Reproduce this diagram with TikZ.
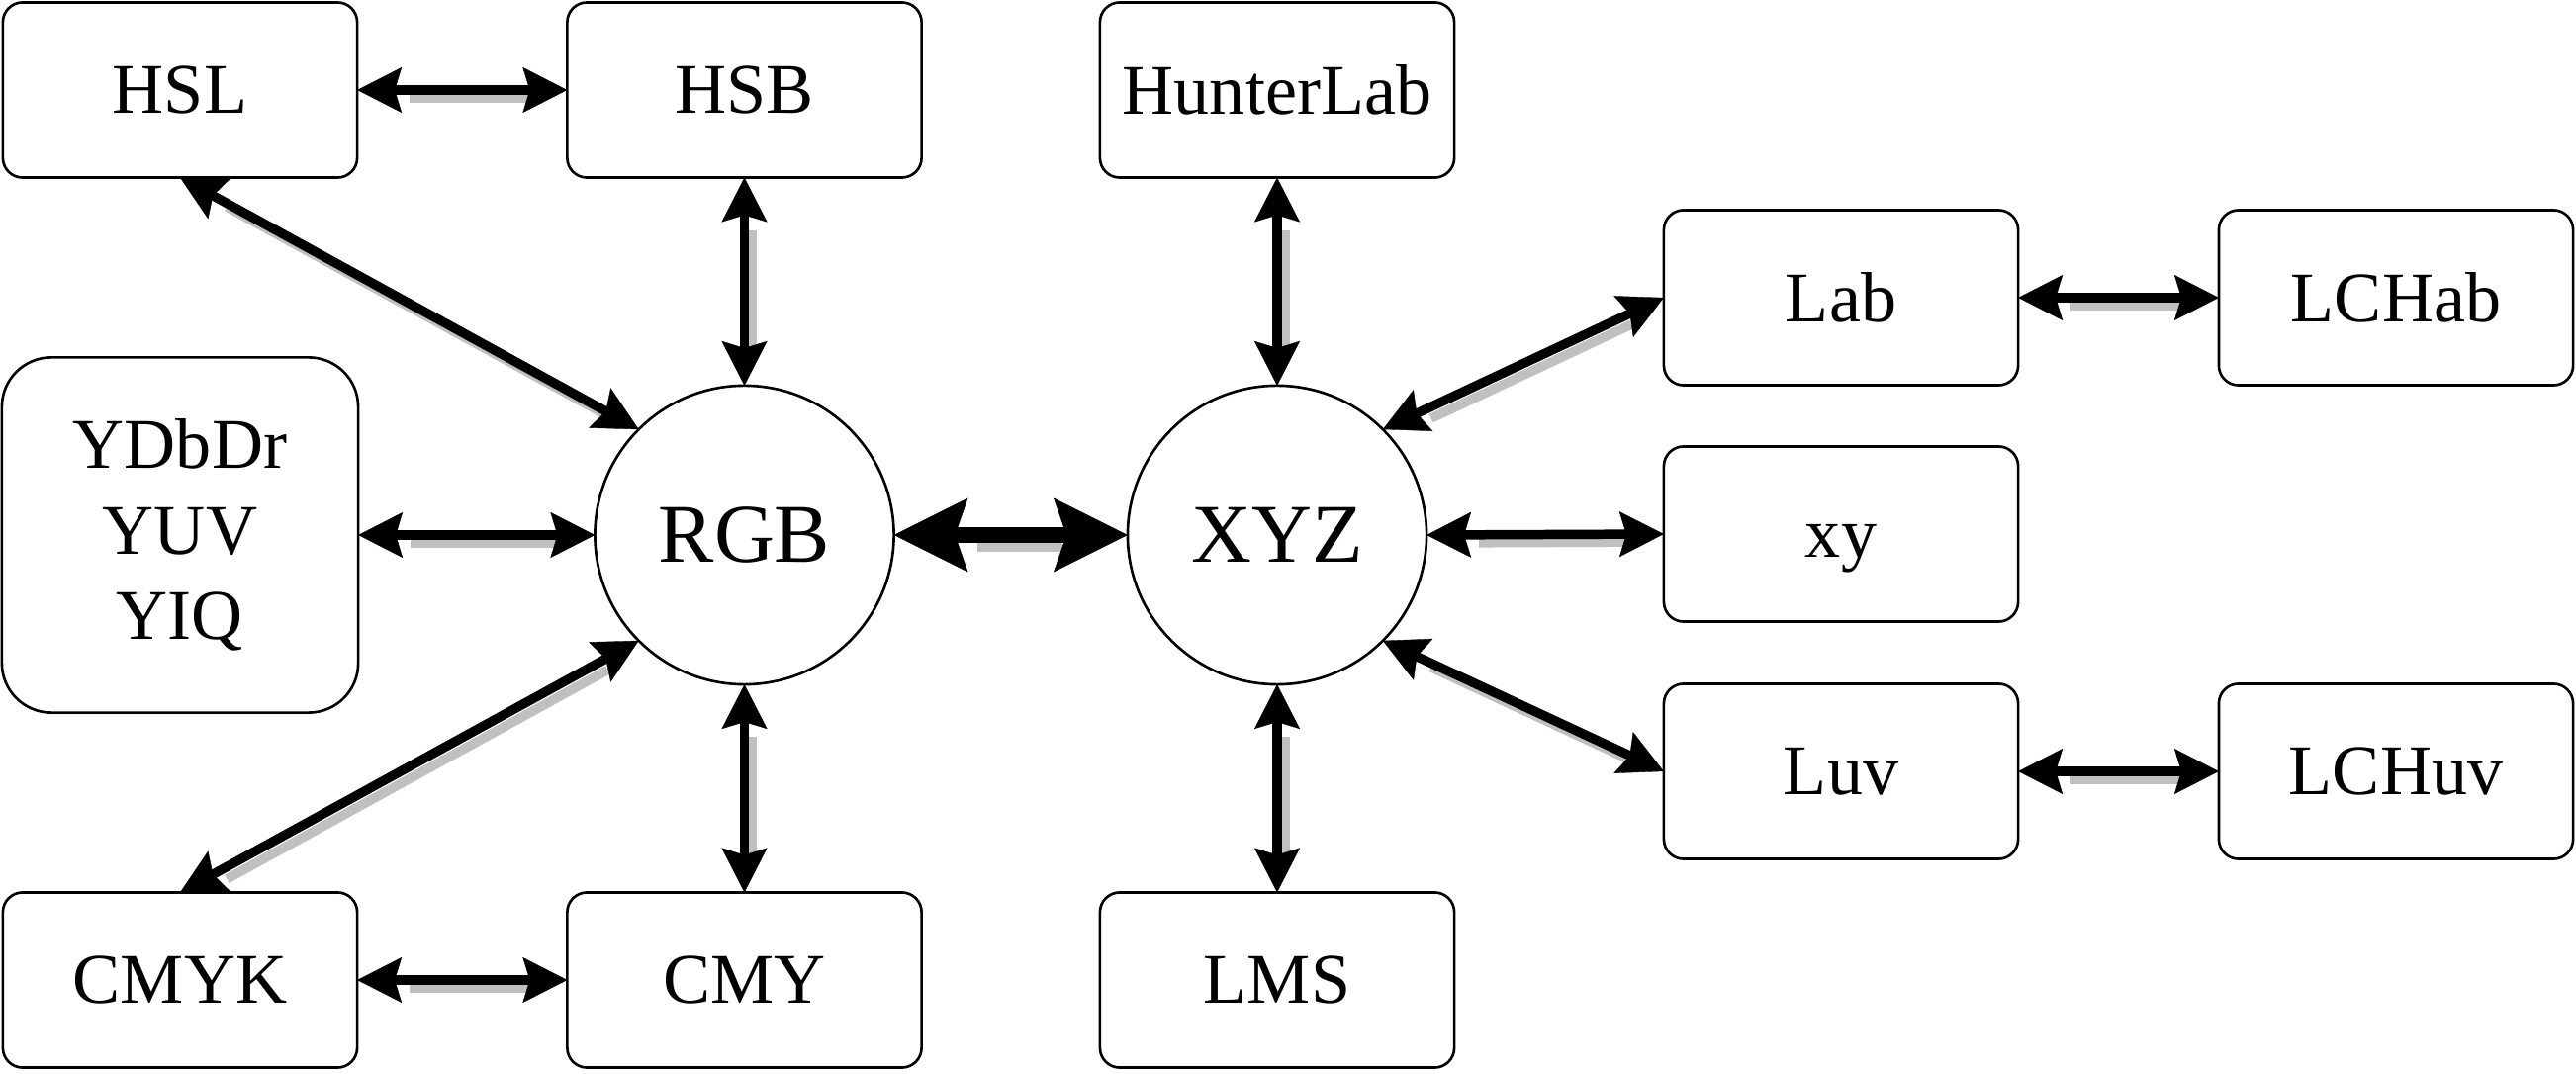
\documentclass[tikz,border=0pt]{standalone}
\usepackage{fontspec}
\setmainfont{Liberation Serif}
\usetikzlibrary{arrows.meta}
\definecolor{shadowgray}{HTML}{C0C0C0}
\tikzset{
  box/.style={draw, line width=0.75pt, rounded corners=0.2cm, minimum width=3.58cm, minimum height=1.77cm,
    inner sep=0pt, outer sep=0pt, font=\fontsize{20.5}{24.6}\selectfont, align=center},
  bigbox/.style={box, rounded corners=0.5cm, minimum width=3.6cm, minimum height=3.59cm},
  hub/.style={draw, circle, line width=0.75pt, minimum size=3.02cm, inner sep=0pt, outer sep=0pt,
    font=\fontsize{24}{28}\selectfont},
  conn/.style={line width=2.7pt, >={Stealth[length=12.8pt,width=13.1pt,inset=2pt,line width=0.1pt]}, <->},
  connshadow/.style={draw=shadowgray, line width=2.7pt, shorten <=12.8pt, shorten >=12.8pt,
    transform canvas={shift={(0.08cm,-0.08cm)}}},
  bigconn/.style={line width=4.8pt, >={Stealth[length=21.3pt,width=21.3pt,inset=3.7pt,line width=0.1pt]}, <->},
  bigconnshadow/.style={draw=shadowgray, line width=4.8pt, shorten <=21.3pt, shorten >=21.3pt,
    transform canvas={shift={(0.09cm,-0.09cm)}}}
}
\newcommand\lnk[3]{\draw[#1shadow] (#2) -- (#3); \draw[#1] (#2) -- (#3);}
\begin{document}
\begin{tikzpicture}[x=0.01cm, y=-0.01cm]
\useasboundingbox (0,0) rectangle (2604,1086);
% nodes
\node[box] (HSL) at (182,91) {HSL};
\node[box] (HSB) at (752.5,91) {HSB};
\node[box] (HunterLab) at (1291,91) {HunterLab};
\node[box] (Lab) at (1861,301) {Lab};
\node[box] (LCHab) at (2422,301) {LCHab};
\node[bigbox] (YDbDr) at (182,541) {YDbDr\\YUV\\YIQ};
\node[hub] (RGB) at (752.5,541) {RGB};
\node[hub] (XYZ) at (1291,541) {XYZ};
\node[box] (xy) at (1861,540) {\vphantom{L}x\smash{y}};
\node[box] (Luv) at (1861,780) {Luv};
\node[box] (LCHuv) at (2422,780) {LCHuv};
\node[box] (CMYK) at (182,991) {CMYK};
\node[box] (CMY) at (752.5,991) {CMY};
\node[box] (LMS) at (1291,991) {LMS};
% connectors
\lnk{conn}{HSL.east}{HSB.west}
\lnk{conn}{HSL.south}{RGB.north west}
\lnk{conn}{HSB.south}{RGB.north}
\lnk{conn}{YDbDr.east}{RGB.west}
\lnk{conn}{CMYK.north}{RGB.south west}
\lnk{conn}{RGB.south}{CMY.north}
\lnk{conn}{CMYK.east}{CMY.west}
\lnk{bigconn}{RGB.east}{XYZ.west}
\lnk{conn}{HunterLab.south}{XYZ.north}
\lnk{conn}{XYZ.south}{LMS.north}
\lnk{conn}{XYZ.north east}{Lab.west}
\lnk{conn}{XYZ.east}{xy.west}
\lnk{conn}{XYZ.south east}{Luv.west}
\lnk{conn}{Lab.east}{LCHab.west}
\lnk{conn}{Luv.east}{LCHuv.west}
\end{tikzpicture}
\end{document}
